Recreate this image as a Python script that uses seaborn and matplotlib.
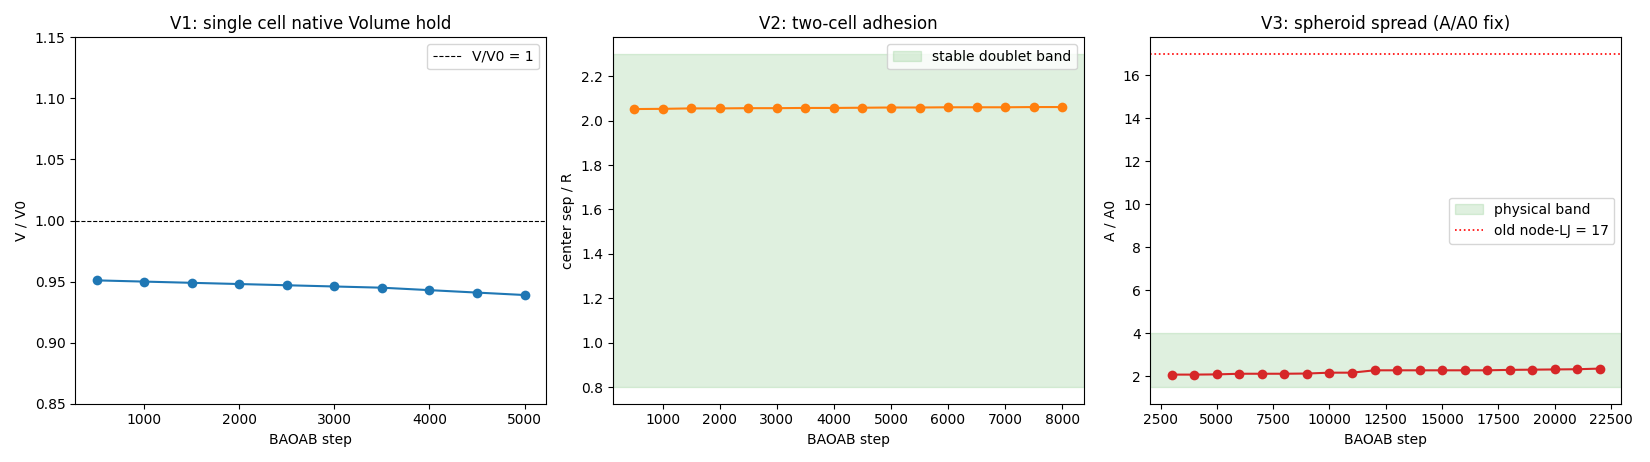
import numpy as np
import seaborn as sns
import matplotlib
matplotlib.use("Agg")
import matplotlib.pyplot as plt

# V1: single cell volume hold
v1_steps = [500, 1000, 1500, 2000, 2500, 3000, 3500, 4000, 4500, 5000]
v1_ratio = [0.951, 0.950, 0.949, 0.948, 0.947, 0.946, 0.945, 0.943, 0.941, 0.939]

# V2: two-cell adhesion
v2_steps = [500, 1000, 1500, 2000, 2500, 3000, 3500, 4000, 4500, 5000,
            5500, 6000, 6500, 7000, 7500, 8000]
v2_sep = [2.052, 2.053, 2.055, 2.055, 2.056, 2.056, 2.057, 2.057, 2.058, 2.059,
          2.059, 2.060, 2.060, 2.060, 2.061, 2.061]

# V3: spheroid spread
v3_steps = [3000, 4000, 5000, 6000, 7000, 8000, 9000, 10000, 11000, 12000,
            13000, 14000, 15000, 16000, 17000, 18000, 19000, 20000, 21000, 22000]
v3_area = [2.08, 2.08, 2.09, 2.12, 2.12, 2.12, 2.13, 2.17, 2.17, 2.28,
           2.28, 2.28, 2.28, 2.28, 2.28, 2.30, 2.31, 2.32, 2.33, 2.36]

band_v2 = (0.8, 2.3)
band_v3 = (1.5, 4.0)
old_lj = 17

fig, axes = plt.subplots(1, 3, figsize=(16.5, 4.62))

# panel 1
ax = axes[0]
sns.lineplot(x=v1_steps, y=v1_ratio, ax=ax, color="C0", marker="o",
             markersize=7, markeredgewidth=0)
ax.axhline(1.0, color="black", ls="--", lw=0.8, label="V/V0 = 1")
ax.set_ylim(0.85, 1.15)
ax.set_xlabel("BAOAB step")
ax.set_ylabel("V / V0")
ax.set_title("V1: single cell native Volume hold")
ax.legend(loc="upper right")

# panel 2
ax = axes[1]
ax.axhspan(band_v2[0], band_v2[1], color="tab:green", alpha=0.15,
           label="stable doublet band")
sns.lineplot(x=v2_steps, y=v2_sep, ax=ax, color="C1", marker="o",
             markersize=7, markeredgewidth=0)
ax.set_xlabel("BAOAB step")
ax.set_ylabel("center sep / R")
ax.set_title("V2: two-cell adhesion")
ax.legend(loc="upper right")

# panel 3
ax = axes[2]
ax.axhspan(band_v3[0], band_v3[1], color="tab:green", alpha=0.15,
           label="physical band")
sns.lineplot(x=v3_steps, y=v3_area, ax=ax, color="C3", marker="o",
             markersize=7, markeredgewidth=0)
ax.axhline(old_lj, color="red", ls=":", lw=1.2, label="old node-LJ = 17")
ax.set_xlabel("BAOAB step")
ax.set_ylabel("A / A0")
ax.set_title("V3: spheroid spread (A/A0 fix)")
ax.legend(loc="center right")

plt.tight_layout()
plt.savefig("out.png", dpi=100)
